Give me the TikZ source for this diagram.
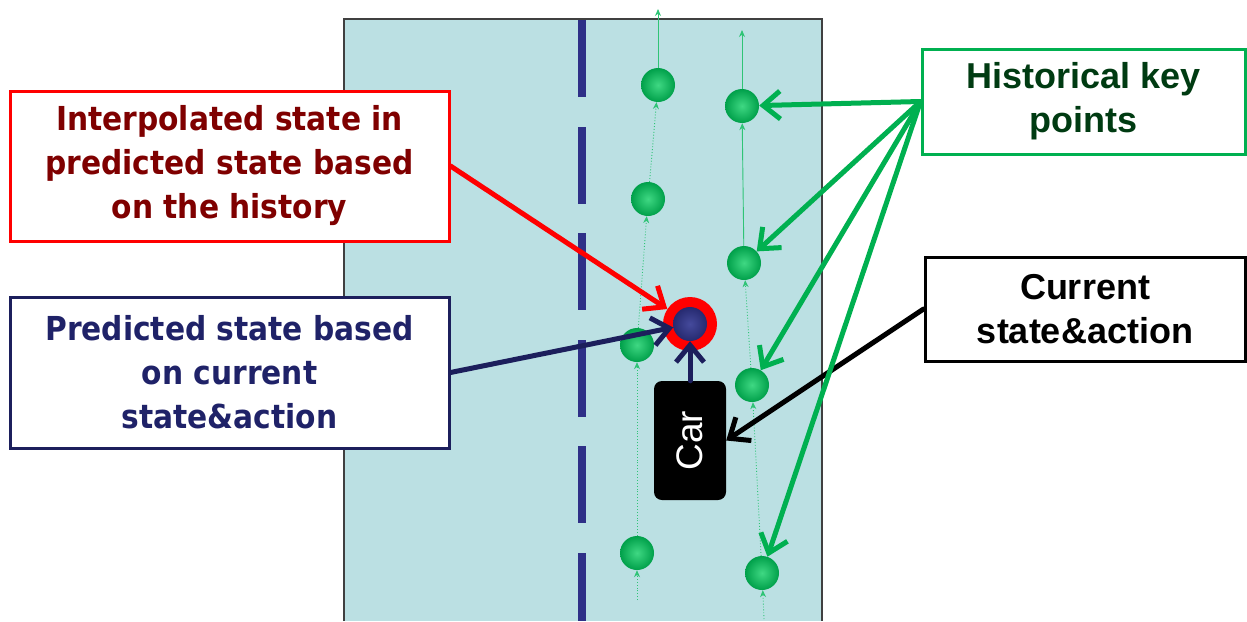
\documentclass[tikz,border=0pt]{standalone}
\usepackage{fontspec}
\setmainfont{Liberation Sans}
\newfontfamily\calloutfont[FakeStretch=0.9]{DejaVu Sans}
\usetikzlibrary{arrows.meta,shadings}

\definecolor{roadfill}{HTML}{BBE0E3}
\definecolor{roadedge}{HTML}{404040}
\definecolor{lane}{HTML}{2E3087}
\definecolor{keygreen}{HTML}{00B050}
\definecolor{keylight}{HTML}{3FD883}
\definecolor{keydark}{HTML}{00A04A}
\definecolor{trackgreen}{HTML}{2FC476}
\definecolor{darkred}{HTML}{7F0000}
\definecolor{navytext}{HTML}{1F2268}
\definecolor{navyline}{HTML}{1C1F5C}
\definecolor{navyball}{HTML}{262A70}
\definecolor{navylight}{HTML}{454A9C}
\definecolor{deepgreen}{HTML}{003B12}
\definecolor{ringred}{HTML}{FF0000}

\tikzset{
  keyball/.style={circle, minimum size=34pt, inner sep=0pt,
    inner color=keylight, outer color=keydark},
  track/.style={draw=trackgreen, line width=0.9pt, -{Stealth[length=7pt,width=6pt]}},
  trackdot/.style={track, dotted},
  callout/.style={draw, line width=3pt, fill=white, align=center, inner sep=0pt,
    font=\calloutfont\bfseries\fontsize{33}{44}\selectfont},
  rightcallout/.style={draw, line width=3pt, fill=white, align=center, inner sep=0pt,
    font=\bfseries\fontsize{36}{44}\selectfont},
  pointer/.style={line width=5pt, line cap=round,
    -{Straight Barb[length=17pt,width=28pt]}},
}

\begin{document}
\begin{tikzpicture}[x=1pt,y=-1pt]
\useasboundingbox (0,0) rectangle (1247,621);

% road surface and its edges
\fill[roadfill] (344,19) rectangle (822,621);
\draw[roadedge, line width=1.5pt] (344,621) -- (344,19) -- (822,19) -- (822,621);

% dashed lane divider
\foreach \y in {20,126.6,233.2,339.8,446.4,553} {
  \fill[lane] (578,\y) rectangle (586,{min(\y+77,621)});
}

% trajectory ends
\coordinate (lb) at (637,600);
\coordinate (lt) at (658,9);
\coordinate (rb) at (764,619);
\coordinate (rt) at (742,30);

% historical key points
\node[keyball] (l1) at (637,553) {};
\node[keyball] (l2) at (637,345) {};
\node[keyball] (l3) at (648,199) {};
\node[keyball] (l4) at (658,85) {};
\node[keyball] (r1) at (762,573) {};
\node[keyball] (r2) at (752,385) {};
\node[keyball] (r3) at (744,263) {};
\node[keyball] (r4) at (742,106) {};

% trajectories through the key points
\draw[trackdot] (lb) -- (l1);
\draw[trackdot] (l1) -- (l2);
\draw[trackdot] (l2) -- (l3);
\draw[trackdot] (l3) -- (l4);
\draw[track] (l4) -- (lt);
\draw[trackdot] (rb) -- (r1);
\draw[trackdot] (r1) -- (r2);
\draw[trackdot] (r2) -- (r3);
\draw[track] (r3) -- (r4);
\draw[track] (r4) -- (rt);

% interpolated and predicted state
\node[circle, minimum size=54pt, inner sep=0pt, fill=ringred] (ring) at (690,324) {};
\node[circle, minimum size=34pt, inner sep=0pt,
      inner color=navylight, outer color=navyball] (pred) at (690,324) {};

% the car
\node[fill=black, rounded corners=8pt, minimum width=72pt, minimum height=119pt,
      inner sep=0pt] (car) at (690,440.5) {};
\node[rotate=90, text=white, font=\fontsize{37}{40}\selectfont, inner sep=0pt]
      (cartext) at (car.center) {Car};

% callout boxes
\node[callout, draw=ringred, text=darkred, minimum width=439pt, minimum height=150pt]
  (interp) at (229.5,166) {Interpolated state in\\predicted state based\\on the history};
\node[callout, draw=navyline, text=navytext, minimum width=439pt, minimum height=151pt]
  (predbox) at (229.5,372.5) {Predicted state based\\on current\\state\&action};
\node[rightcallout, draw=keygreen, text=deepgreen, minimum width=323pt, minimum height=105pt]
  (hist) at (1083.5,101.5) {Historical key\\points};
\node[rightcallout, draw=black, text=black, minimum width=320pt, minimum height=104pt]
  (curr) at (1085,309) {Current\\state\&action};

% pointers
\draw[pointer, draw=ringred] (interp.east) -- (ring);
\draw[pointer, draw=navyline] (predbox.east) -- (pred);
\draw[pointer, draw=navyline] (car.north) -- (pred);
\draw[pointer, draw=black] (curr.west) -- (car.east);
\draw[pointer, draw=keygreen] (hist.west) -- (r4);
\draw[pointer, draw=keygreen] (hist.west) -- (r3);
\draw[pointer, draw=keygreen] (hist.west) -- (r2);
\draw[pointer, draw=keygreen] (hist.west) -- (r1);
\end{tikzpicture}
\end{document}
